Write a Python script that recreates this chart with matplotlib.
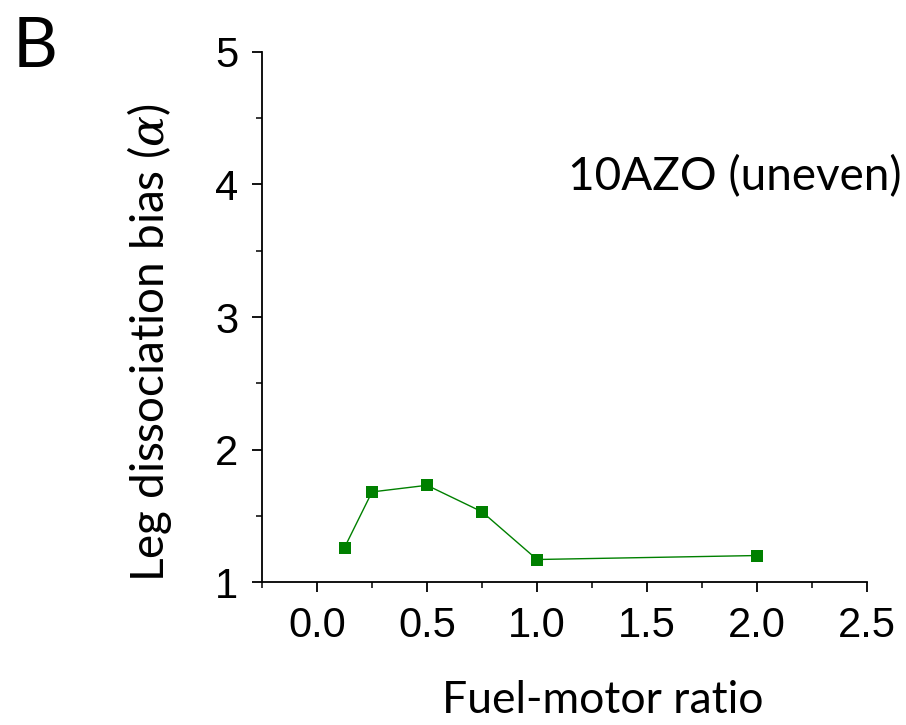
import matplotlib
matplotlib.use("Agg")
import matplotlib.pyplot as plt
from matplotlib.ticker import MultipleLocator

# data
ratio = [0.125, 0.25, 0.5, 0.75, 1.0, 2.0]
alpha_bias = [1.26, 1.68, 1.73, 1.53, 1.17, 1.20]

x_ticks = [0.0, 0.5, 1.0, 1.5, 2.0, 2.5]
x_tick_labels = ["0.0", "0.5", "1.0", "1.5", "2.0", "2.5"]
y_ticks = [1, 2, 3, 4, 5]

label_font = ["Lato", "DejaVu Sans"]
tick_font = ["Liberation Sans Narrow", "Liberation Sans", "DejaVu Sans"]

plt.rcParams["mathtext.fontset"] = "dejavuserif"

fig = plt.figure(figsize=(9.06, 7.25), dpi=100)
ax = fig.add_axes([0.2892, 0.1972, 0.6678, 0.7311])

ax.plot(ratio, alpha_bias, color="#008000", linewidth=1.0,
        marker="s", markersize=8.3, markeredgewidth=0)

ax.set_xlim(-0.25, 2.5)
ax.set_ylim(1, 5)
ax.set_xticks(x_ticks)
ax.set_xticklabels(x_tick_labels)
ax.set_yticks(y_ticks)
ax.xaxis.set_minor_locator(MultipleLocator(0.25))
ax.yaxis.set_minor_locator(MultipleLocator(0.5))

for side in ["top", "right"]:
    ax.spines[side].set_visible(False)
for side in ["left", "bottom"]:
    ax.spines[side].set_linewidth(1.3)

ax.tick_params(which="major", direction="out", length=7, width=1.3, pad=10)
ax.tick_params(which="minor", direction="out", length=4, width=1.1)
for lbl in ax.get_xticklabels() + ax.get_yticklabels():
    lbl.set_family(tick_font)
    lbl.set_fontsize(30)

fig.text(150 / 906, 1 - 343 / 725, r"Leg dissociation bias ($\alpha$)",
         rotation=90, ha="center", va="center", fontsize=33, family=label_font)
fig.text(603 / 906, 1 - 713 / 725, "Fuel-motor ratio",
         ha="center", va="baseline", fontsize=32, family=label_font)
fig.text(902 / 906, 1 - 190 / 725, "10AZO (uneven)",
         ha="right", va="baseline", fontsize=33, family=label_font)
fig.text(13 / 906, 1 - 67 / 725, "B",
         ha="left", va="baseline", fontsize=50, family=label_font)

fig.savefig("out.png", dpi=100)
